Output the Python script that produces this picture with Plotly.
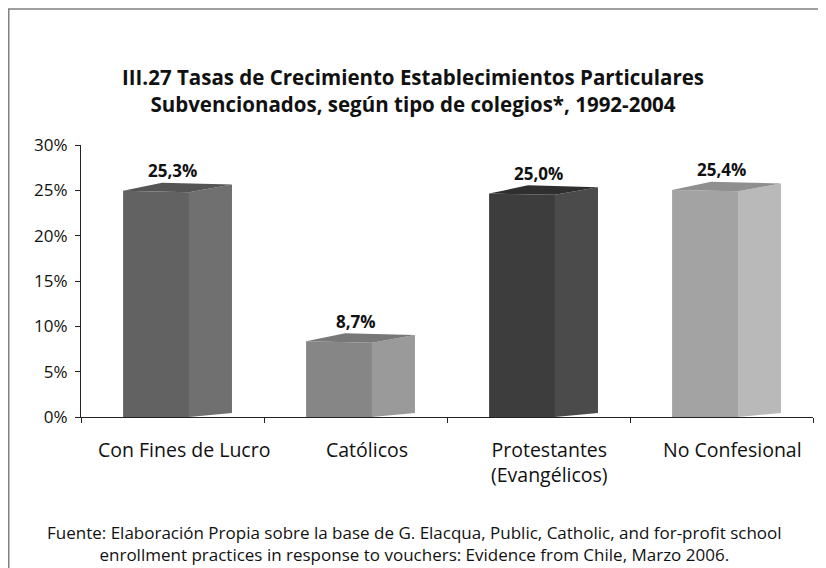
import plotly.graph_objects as go

# ---------------- data ----------------
categories = ["Con Fines de Lucro", "Católicos", "Protestantes<br>(Evangélicos)", "No Confesional"]
values = [25.3, 8.7, 25.0, 25.4]
value_labels = ["25,3%", "8,7%", "25,0%", "25,4%"]
y_tick_vals = [0, 5, 10, 15, 20, 25, 30]
y_tick_text = ["0%", "5%", "10%", "15%", "20%", "25%", "30%"]
title_text = ("III.27 Tasas de Crecimiento Establecimientos Particulares<br>"
              "Subvencionados, según tipo de colegios*, 1992-2004")
source_text = ("Fuente: Elaboración Propia sobre la base de G. Elacqua, Public, Catholic, "
               "and for-profit school<br>"
               "enrollment practices in response to vouchers: Evidence from Chile, Marzo 2006.")

# ---------------- styles ----------------
front_colors = ["#626262", "#868686", "#3d3d3d", "#a3a3a3"]
side_colors = ["#707070", "#9a9a9a", "#4b4b4b", "#b9b9b9"]
top_colors = ["#555555", "#787878", "#2f2f2f", "#8f8f8f"]
FONT = "Open Sans"
TXT = "#111111"

# figure geometry (pixels inside the figure)
W, H = 818, 560
L, R, T, B = 73, 13, 137, 151
PW, PH = W - L - R, H - T - B


def px(fx):
    return (fx - L) / PW


def py(fy):
    return (H - B - fy) / PH


# pseudo-3D geometry (axis units: category width = 1, value in %)
FL, FR = -0.27, 0.09       # front face left/right offsets
BL, BR = -0.057, 0.325     # back edge left/right offsets
F_TOP_L, F_TOP_R = -0.35, -0.5
B_TOP_L, B_TOP_R = 0.55, 0.35
B_BOT_R = 0.45

fig = go.Figure()
for i, v in enumerate(values):
    faces = [
        ([i + FL, i + FR, i + FR, i + FL, i + FL],
         [0, 0, v + F_TOP_R, v + F_TOP_L, 0], front_colors[i]),
        ([i + FR, i + BR, i + BR, i + FR, i + FR],
         [0, B_BOT_R, v + B_TOP_R, v + F_TOP_R, 0], side_colors[i]),
        ([i + FL, i + BL, i + BR, i + FR, i + FL],
         [v + F_TOP_L, v + B_TOP_L, v + B_TOP_R, v + F_TOP_R, v + F_TOP_L], top_colors[i]),
    ]
    for xs, ys, col in faces:
        fig.add_trace(go.Scatter(x=xs, y=ys, mode="lines", fill="toself",
                                 fillcolor=col, line=dict(width=0, color=col),
                                 hoverinfo="skip", showlegend=False))
    fig.add_annotation(x=i, y=v, text="<b>" + value_labels[i] + "</b>", showarrow=False,
                       yshift=17, yanchor="middle", xanchor="center",
                       font=dict(family=FONT, size=17, color=TXT))

# category labels
for i, c in enumerate(categories):
    fig.add_annotation(x=i, y=py(426), xref="x", yref="paper", text=c,
                       showarrow=False, xanchor="center", yanchor="top", xshift=11,
                       font=dict(family=FONT, size=19.5, color=TXT))

# title
fig.add_annotation(x=px(405), y=py(53), xref="paper", yref="paper",
                   text="<b>" + title_text + "</b>", showarrow=False,
                   xanchor="center", yanchor="top",
                   font=dict(family=FONT, size=20.5, color=TXT))

# source note
fig.add_annotation(x=px(406), y=py(511), xref="paper", yref="paper",
                   text=source_text, showarrow=False, xanchor="center", yanchor="top",
                   font=dict(family=FONT, size=17, color=TXT))

# outer frame (extends past right and bottom edges as in the reference)
fig.add_shape(type="rect", xref="paper", yref="paper",
              x0=px(0.75), x1=px(W + 40), y0=py(H + 40), y1=py(1),
              line=dict(color="#808080", width=1.5), fillcolor="rgba(0,0,0,0)", layer="below")

fig.update_layout(
    width=W, height=H,
    margin=dict(l=L, r=R, t=T, b=B),
    paper_bgcolor="white", plot_bgcolor="white",
    xaxis=dict(range=[-0.5, 3.5], tickvals=[-0.5, 0.5, 1.5, 2.5, 3.5],
               ticktext=["", "", "", "", ""], ticks="outside", ticklen=5,
               showline=True, linecolor="#222222", linewidth=1, tickcolor="#222222",
               showgrid=False, zeroline=False, fixedrange=True),
    yaxis=dict(range=[0, 30], tickvals=y_tick_vals, ticktext=y_tick_text,
               ticks="outside", ticklen=5, showline=True, linecolor="#222222",
               linewidth=1, tickcolor="#222222", showgrid=False, zeroline=False,
               ticklabelstandoff=4,
               tickfont=dict(family=FONT, size=17, color=TXT), fixedrange=True),
    showlegend=False,
)

fig.write_html("out.html")
